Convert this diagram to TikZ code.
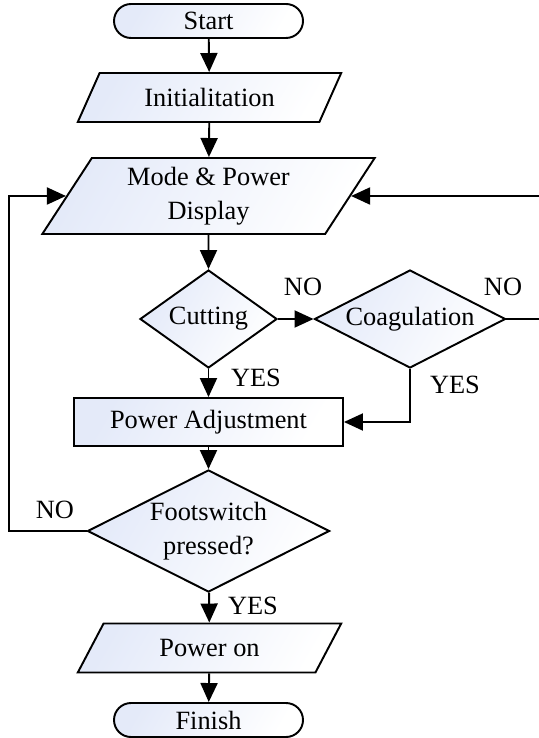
\documentclass[tikz,border=0pt]{standalone}
\usepackage{fontspec}
\setmainfont{Liberation Serif}
\usetikzlibrary{arrows.meta, shapes.geometric, shapes.misc}
\definecolor{boxfill}{RGB}{228,234,249}

\begin{document}
\begin{tikzpicture}[
    every node/.style={font=\fontsize{15}{19.3}\selectfont, align=center},
    box/.style={draw, line width=1.1pt, left color=boxfill, right color=white, shading angle=60},
    term/.style={box, rounded rectangle, minimum width=3.78cm, minimum height=0.68cm, inner sep=0pt},
    io/.style={box, trapezium, trapezium stretches=true, trapezium left angle=65, trapezium right angle=115, minimum width=5.28cm, minimum height=0.98cm},
    proc/.style={box, rectangle, minimum width=5.38cm, minimum height=0.96cm},
    dec/.style={box, diamond, aspect=2, inner sep=0pt},
    arr/.style={line width=1.1pt, -{Triangle[length=3.8mm, width=3.4mm]}},
    lbl/.style={inner sep=0pt}
]
    % Page frame
    \useasboundingbox (0,0) rectangle (10.78,-14.76);

    % Main column
    \node[term] (start) at (4.17,-0.42) {Start};
    \node[io] (init) at (4.19,-1.95) {Initialitation};
    \node[io, minimum width=6.66cm, minimum height=1.52cm, trapezium left angle=62, trapezium right angle=118] (mode) at (4.17,-3.92) {Mode \& Power\\Display};
    \node[dec, minimum width=2.74cm, minimum height=1.96cm] (cut) at (4.17,-6.38) {Cutting};
    \node[dec, minimum width=3.82cm, minimum height=1.96cm] (coag) at (8.20,-6.38) {Coagulation};
    \node[proc] (adj) at (4.17,-8.44) {Power Adjustment};
    \node[dec, minimum width=4.84cm, minimum height=2.44cm] (foot) at (4.17,-10.62) {Footswitch\\pressed?};
    \node[io] (pwron) at (4.19,-12.96) {Power on};
    \node[term] (finish) at (4.17,-14.40) {Finish};

    % Straight arrows down the column
    \foreach \a/\b in {start/init, init/mode, mode/cut, cut/adj, adj/foot, foot/pwron, pwron/finish}
    {
        \draw[arr] (\a) -- (\b);
    }

    % Side branches
    \draw[arr] (cut.east) -- (coag.west);
    \draw[arr] (coag.south) |- (adj.east);
    \coordinate (rgt) at (10.95,-6.38);
    \draw[arr] (coag.east) -- (rgt) |- (mode.east);
    \coordinate (lft) at (0.18,-10.62);
    \draw[arr] (foot.west) -- (lft) |- (mode.west);

    % Branch labels
    \node[lbl] (noCut) at (6.06,-5.74) {NO};
    \node[lbl] (noCoag) at (10.06,-5.74) {NO};
    \node[lbl] (yesCut) at (5.12,-7.56) {YES};
    \node[lbl] (yesCoag) at (9.10,-7.70) {YES};
    \node[lbl] (noFoot) at (1.10,-10.20) {NO};
    \node[lbl] (yesFoot) at (5.06,-12.12) {YES};
\end{tikzpicture}
\end{document}
